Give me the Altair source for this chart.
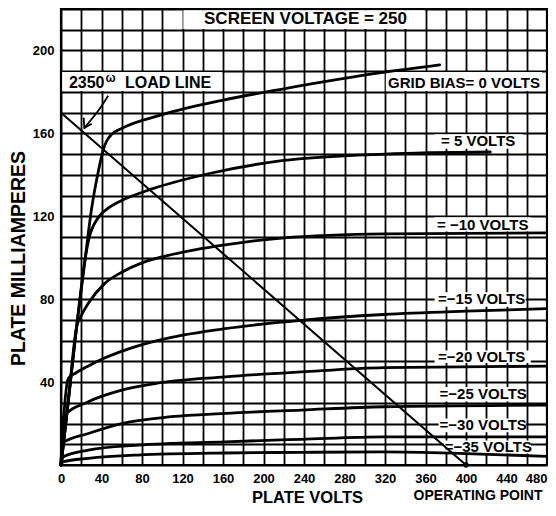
import altair as alt
import pandas as pd

FONT = "Liberation Sans"

# ---- characteristic curves (plate volts, plate mA) ----
bias_names = ["0", "-5", "-10", "-15", "-20", "-25", "-30", "-35"]

v_0 = [0, 7, 15.4, 24, 30, 37, 42, 45, 50, 60, 100, 160, 220, 320, 374]
i_0 = [0, 30, 66.6, 100, 123, 142, 152.5, 156.2, 159.5, 162.4, 169, 176, 181.5, 189.5, 193]

v_5 = [0, 7, 15.4, 24, 27, 37, 45, 60, 90, 150, 218, 320, 424]
i_5 = [0, 30, 66.6, 100, 108, 119.5, 123.3, 127.6, 133.2, 141, 146.8, 150, 151]

v_10 = [0, 7, 15.4, 20, 27, 43, 60, 80, 103, 132, 162, 218, 320, 480]
i_10 = [0, 30, 66.6, 72, 78, 87.5, 93, 97.5, 100.8, 103.8, 106.2, 109.5, 111.5, 112]

v_15 = [0, 3, 7.2, 15, 27, 43, 76, 109, 162, 237, 319, 400, 480]
i_15 = [0, 25, 41.7, 44.5, 47.8, 51.6, 57.5, 61.6, 65.8, 69.8, 72.6, 74.2, 75.4]

v_20 = [0, 1, 2.3, 27, 60, 93, 162, 237, 319, 480]
i_20 = [0, 14, 23.3, 30.5, 36.1, 39.3, 42.5, 44.9, 47, 47.7]

v_25 = [0, 1, 27, 60, 109, 162, 237, 319, 480]
i_25 = [0, 10.4, 15.2, 20, 23.3, 24.9, 26.5, 28.1, 28.9]

v_30 = [0, 2.3, 27, 76, 162, 237, 319, 480]
i_30 = [0, 4, 7.2, 9.6, 11.2, 12.4, 13.6, 13.6]

v_35 = [0, 2.3, 27, 76, 162, 237, 319, 400, 480]
i_35 = [0, 1.6, 3.2, 4.8, 5.8, 6.1, 6.3, 5.5, 4.2]

volts = [v_0, v_5, v_10, v_15, v_20, v_25, v_30, v_35]
amps = [i_0, i_5, i_10, i_15, i_20, i_25, i_30, i_35]

# load line 2350 ohm: 170 mA at 0 V to 400 V (operating point)
load_v = [0, 400]
load_i = [170, 0]

# ---- labels ----
curve_labels = ["GRID BIAS= 0 VOLTS", "= 5 VOLTS", "= \u221210 VOLTS", "=\u221215 VOLTS",
                "=\u221220 VOLTS", "=\u221225 VOLTS", "=\u221230 VOLTS", "=\u221235 VOLTS"]
label_v = [398, 412, 416.5, 415.5, 415.5, 417, 417, 422]
label_i = [184.3, 156.2, 116, 80.1, 52, 34.2, 19.3, 8.8]
box_v1 = [320.8, 369, 369, 369, 369, 370, 373, 378]
box_v2 = [475, 456, 464, 459, 464, 459, 459, 464]
box_i1 = [180.4, 152.6, 112.6, 76.4, 49.2, 30.6, 15.8, 5.5]
box_i2 = [189.6, 159.6, 119.5, 83.4, 55.3, 37.6, 22.4, 11.8]

title_text = ["SCREEN VOLTAGE = 250"]
title_v, title_i = [241.5], [215.4]
title_box = dict(V1=[120.8], V2=[359.2], I1=[210.4], I2=[219.4])

load_box = dict(V1=[1.2], V2=[159.2], I1=[180.4], I2=[189.6])
load_texts = ["2350", "\u03c9", "LOAD LINE"]
load_text_v = [7.8, 44.0, 63.2]
load_text_i = [184.4, 184.4, 184.4]

arrow_v = [46.6, 36.8, 23.0]
arrow_i = [178.1, 170.9, 162.6]
head_v = [30.3, 23.0, 22.4]
head_i = [164.6, 162.6, 167.6]

# ---- tables ----
rows = []
for name, vs, is_ in zip(bias_names, volts, amps):
    for k, (v, i) in enumerate(zip(vs, is_)):
        rows.append({"bias": name, "k": k, "V": v, "I": i})
curves = pd.DataFrame(rows)
load_df = pd.DataFrame({"V": load_v, "I": load_i})
labels_df = pd.DataFrame({"t": curve_labels, "V": label_v, "I": label_i})
boxes_df = pd.DataFrame({"V1": box_v1 + title_box["V1"] + load_box["V1"],
                         "V2": box_v2 + title_box["V2"] + load_box["V2"],
                         "I1": box_i1 + title_box["I1"] + load_box["I1"],
                         "I2": box_i2 + title_box["I2"] + load_box["I2"]})
title_df = pd.DataFrame({"t": title_text, "V": title_v, "I": title_i})
load_txt_df = pd.DataFrame({"t": load_texts, "V": load_text_v, "I": load_text_i})
arrow_df = pd.DataFrame({"V": arrow_v, "I": arrow_i, "k": [0, 1, 2]})
head_df = pd.DataFrame({"V": head_v, "I": head_i, "k": [0, 1, 2]})
op_df = pd.DataFrame({"V": [load_v[1]], "I": [load_i[1]]})

xs = alt.Scale(domain=[0, 480], nice=False, zero=False)
ys = alt.Scale(domain=[0, 220], nice=False, zero=False)

x_axis = alt.Axis(
    values=list(range(0, 481, 20)), format="d",
    labelExpr="datum.value % 40 == 0 ? datum.label : ''",
    labelAlign={"condition": {"test": "datum.value == 480", "value": "right"}, "value": "center"},
    labelFlush=False, labelOverlap=False, ticks=False, domain=False,
    grid=True, gridColor="black", gridWidth=1.8, gridOpacity=1,
    labelFont=FONT, labelFontWeight="bold", labelFontSize=13, labelColor="black", labelPadding=7,
    title="PLATE  VOLTS", titleFont=FONT, titleFontSize=16.5, titleFontWeight="bold",
    titleColor="black", titleX=246, titleY=32, titleAlign="center", titleBaseline="middle",
)
y_axis = alt.Axis(
    values=list(range(0, 221, 10)), format="d",
    labelExpr="(datum.value % 40 == 0 && datum.value > 0) ? datum.label : ''",
    labelOverlap=False, labelFlush=False, ticks=False, domain=False,
    grid=True, gridColor="black", gridWidth=1.8, gridOpacity=1,
    labelFont=FONT, labelFontWeight="bold", labelFontSize=13, labelColor="black", labelPadding=7,
    title="PLATE  MILLIAMPERES", titleFont=FONT, titleFontSize=19.5, titleFontWeight="bold",
    titleColor="black", titleAngle=270, titleX=-42.5, titleY=249, titleAlign="center",
    titleBaseline="middle",
)

X = alt.X("V:Q", scale=xs, axis=x_axis)
Y = alt.Y("I:Q", scale=ys, axis=y_axis)

boxes = alt.Chart(boxes_df).mark_rect(fill="white", stroke=None).encode(
    x=alt.X("V1:Q", scale=xs, axis=x_axis), x2="V2:Q",
    y=alt.Y("I1:Q", scale=ys, axis=y_axis), y2="I2:Q")

curve_lines = alt.Chart(curves).mark_line(
    color="black", strokeWidth=2.8, interpolate="monotone", strokeCap="round", strokeJoin="round"
).encode(x=X, y=Y, detail="bias:N", order="k:Q")

load_line = alt.Chart(load_df).mark_line(color="black", strokeWidth=2).encode(x=X, y=Y)

arrow = alt.Chart(arrow_df).mark_line(color="black", strokeWidth=1.8, interpolate="natural").encode(
    x=X, y=Y, order="k:Q")
head = alt.Chart(head_df).mark_line(color="black", strokeWidth=1.8, strokeJoin="miter").encode(
    x=X, y=Y, order="k:Q")

op_pt = alt.Chart(op_df).mark_circle(color="black", size=28, opacity=1).encode(x=X, y=Y)

txt_common = dict(font=FONT, fontWeight="bold", color="black", baseline="middle")
curve_text = alt.Chart(labels_df).mark_text(fontSize=15, align="center", **txt_common).encode(
    x=X, y=Y, text="t:N")
title_mark = alt.Chart(title_df).mark_text(fontSize=17, align="center", **txt_common).encode(
    x=X, y=Y, text="t:N")
load_t1 = alt.Chart(load_txt_df.iloc[[0, 2]]).mark_text(fontSize=16, align="left", **txt_common).encode(
    x=X, y=Y, text="t:N")
load_t2 = alt.Chart(load_txt_df.iloc[[1]]).mark_text(
    fontSize=12, align="left", font=FONT, fontWeight="bold", color="black", baseline="middle", dy=-5
).encode(x=X, y=Y, text="t:N")

op_text = alt.Chart(pd.DataFrame({"t": ["OPERATING POINT"]})).mark_text(
    fontSize=14, align="center", **txt_common).encode(
    x=alt.value(417), y=alt.value(487), text="t:N")

chart = alt.layer(
    boxes, curve_lines, load_line, arrow, head, op_pt,
    curve_text, title_mark, load_t1, load_t2, op_text
).properties(
    width=486, height=456,
    padding={"left": 53, "top": 1, "right": 1, "bottom": 43},
    autosize=alt.AutoSizeParams(type="none"),
    background="white",
).configure_view(stroke="black", strokeWidth=2.2)

chart.save("out.html", embed_options={"renderer": "svg", "actions": False})
